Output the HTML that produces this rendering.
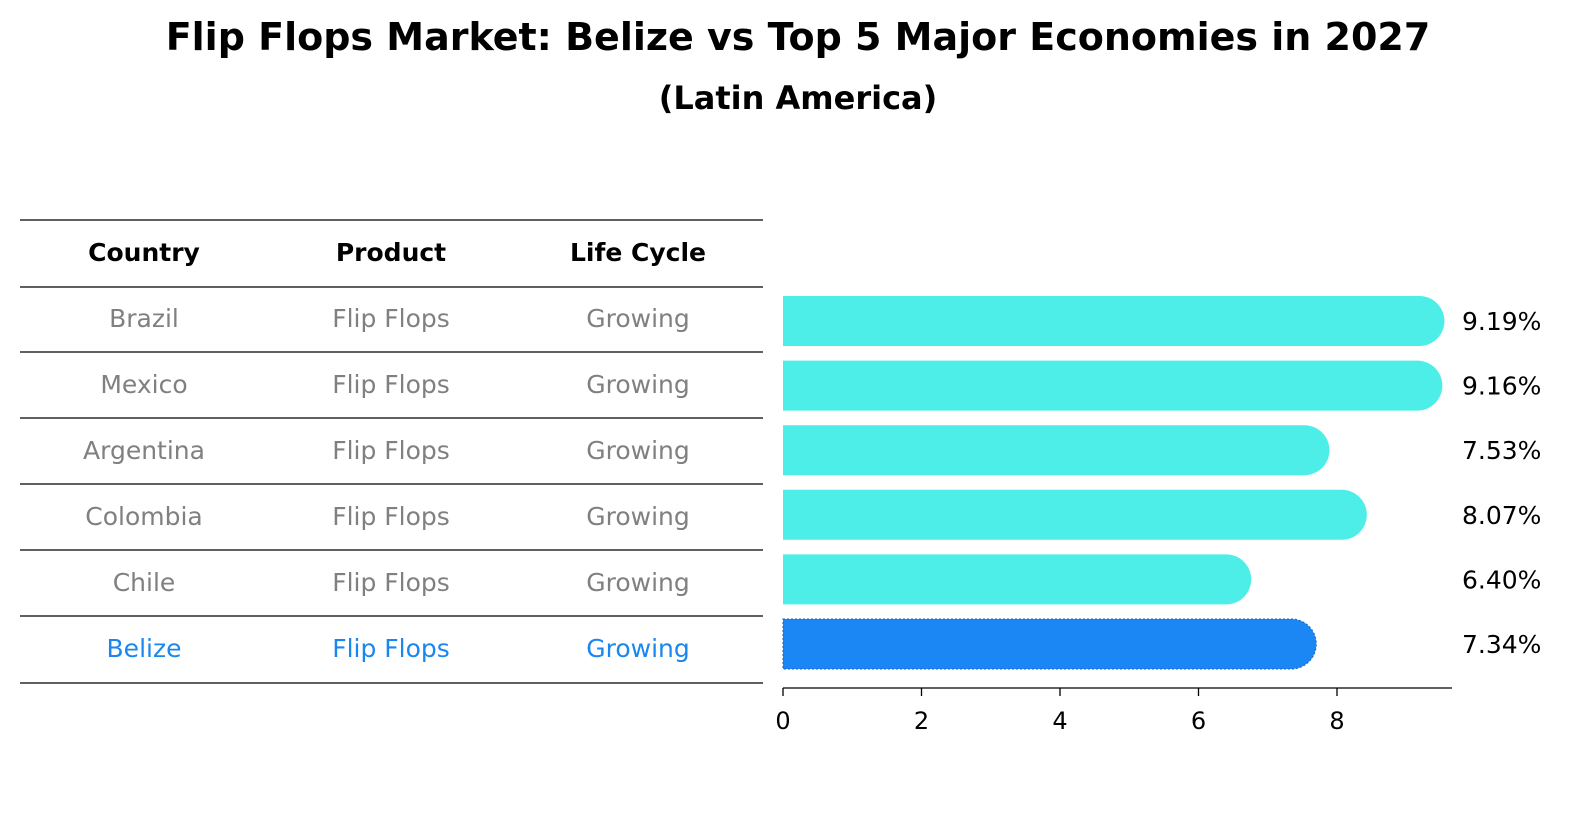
<!DOCTYPE html>
<html><head><meta charset="utf-8"><style>
body{margin:0;background:#fff;}
svg text{font-family:"DejaVu Sans","Liberation Sans",sans-serif;}
</style></head><body>
<svg width="1586" height="823" viewBox="0 0 1586 823" xmlns="http://www.w3.org/2000/svg">
<text x="798" y="50" text-anchor="middle" font-size="38" font-weight="bold">Flip Flops Market: Belize vs Top 5 Major Economies in 2027</text>
<text x="798" y="109" text-anchor="middle" font-size="32" font-weight="bold">(Latin America)</text>
<g id="table"></g>
<g id="bars"></g>
<g id="axis"></g>
</svg>
<script>
const countries=["Brazil","Mexico","Argentina","Colombia","Chile","Belize"];
const products=["Flip Flops","Flip Flops","Flip Flops","Flip Flops","Flip Flops","Flip Flops"];
const lifeCycles=["Growing","Growing","Growing","Growing","Growing","Growing"];
const values=[9.19,9.16,7.53,8.07,6.40,7.34];
const valueLabels=["9.19%","9.16%","7.53%","8.07%","6.40%","7.34%"];
const ticks=[0,2,4,6,8];
const NS="http://www.w3.org/2000/svg";
function mk(t,a,p){const e=document.createElementNS(NS,t);for(const k in a)e.setAttribute(k,a[k]);p.appendChild(e);return e;}
const x=v=>783+v*69.25;
const barY=i=>321+i*64.6;
const rowY=i=>318+i*66;
const tbl=document.getElementById('table');
const lines=[220,287,352,418,484,550,616,683];
lines.forEach(y=>{const l=mk('line',{x1:20,x2:763,y1:y,y2:y,stroke:'#000','stroke-width':1.2},tbl);

});
const cols=[144,391,638];
["Country","Product","Life Cycle"].forEach((h,j)=>{const t=mk('text',{x:cols[j],y:261,'text-anchor':'middle','font-size':25,'font-weight':'bold'},tbl);t.textContent=h;

});
countries.forEach((c,i)=>{const col=i===5?'#1a87f0':'#808080';
[c,products[i],lifeCycles[i]].forEach((s,j)=>{const t=mk('text',{x:cols[j],y:rowY(i)+9,'text-anchor':'middle','font-size':25,fill:col},tbl);t.textContent=s;

});});
const bars=document.getElementById('bars');
const r=25;
values.forEach((v,i)=>{const yc=barY(i),xe=x(v);const belize=i===5;
const p=mk('path',{d:`M783 ${yc-r} L${xe} ${yc-r} A${r} ${r} 0 0 1 ${xe} ${yc+r} L783 ${yc+r} Z`,fill:belize?'#1a87f5':'#4deee8',stroke:belize?'#1565c0':'none','stroke-dasharray':belize?'2 2':'none','stroke-width':1},bars);


const t=mk('text',{x:1462,y:yc+9,'font-size':25},bars);t.textContent=valueLabels[i];

});
const ax=document.getElementById('axis');
const al=mk('line',{x1:783,x2:1452,y1:688,y2:688,stroke:'#000','stroke-width':1.3},ax);


ticks.forEach(v=>{const l=mk('line',{x1:x(v),x2:x(v),y1:688,y2:696,stroke:'#000','stroke-width':1.3},ax);


const t=mk('text',{x:x(v),y:729,'text-anchor':'middle','font-size':24},ax);t.textContent=v;

});
</script>
</body></html>
